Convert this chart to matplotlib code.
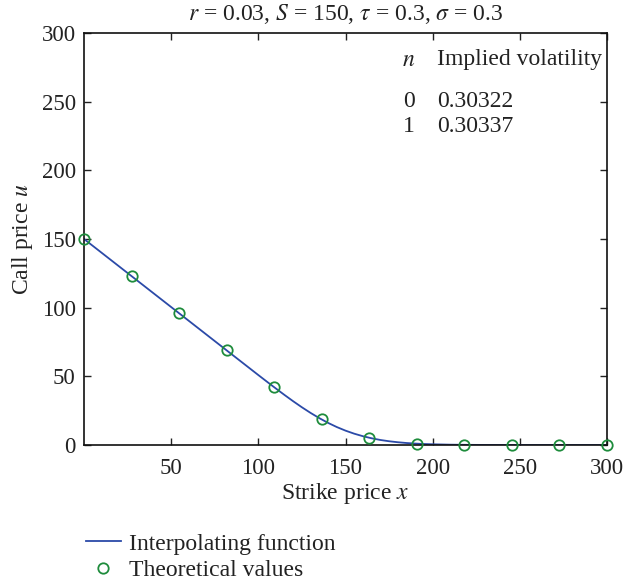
import matplotlib
matplotlib.use("Agg")
import matplotlib.pyplot as plt

plt.rcParams['font.family'] = ['Liberation Serif', 'DejaVu Serif']
plt.rcParams['mathtext.fontset'] = 'stix'

# Interpolating function (strike, call price)
line_x = [0, 10, 20, 30, 40, 50, 60, 70, 80, 90, 100, 105, 110, 115, 120, 125, 130,
          135, 140, 145, 150, 155, 160, 165, 170, 175, 180, 185, 190, 195, 200,
          210, 220, 230, 240, 250, 260, 280, 300]
line_y = [150.0, 140.09, 130.18, 120.27, 110.36, 100.45, 90.54, 80.63, 70.72, 60.83,
          50.93, 46.04, 41.20, 36.45, 31.85, 27.46, 23.34, 19.55, 16.11, 13.08, 10.46,
          8.24, 6.40, 4.88, 3.66, 2.73, 2.01, 1.45, 1.04, 0.73, 0.52,
          0.24, 0.11, 0.05, 0.02, 0.01, 0.0, 0.0, 0.0]

# Theoretical values
pts_x = [0, 27.27, 54.55, 81.82, 109.09, 136.36, 163.64, 190.91, 218.18, 245.45, 272.73, 300]
pts_y = [150.0, 122.97, 95.94, 68.92, 42.06, 18.57, 5.31, 0.97, 0.13, 0.01, 0.0, 0.0]

xticks = [50, 100, 150, 200, 250, 300]
yticks = [0, 50, 100, 150, 200, 250, 300]

table_rows = [("$n$", "Implied volatility"), ("0", "0.30322"), ("1", "0.30337")]

FS = 17
TC = '#222222'
W, H = 624, 582
fig = plt.figure(figsize=(W / 100, H / 100), dpi=100)
ax = fig.add_axes([84 / W, 1 - 445 / H, (607 - 84) / W, (445 - 33) / H])

ln, = ax.plot(line_x, line_y, color='#2b4aa8', lw=1.3, label='Interpolating function')
mk, = ax.plot(pts_x, pts_y, ls='none', marker='o', ms=7.5, mfc='none', mec='#1e8c3c',
              mew=1.3, label='Theoretical values', clip_on=False, zorder=3)

ax.set_xlim(0, 300)
ax.set_ylim(0, 300)
ax.set_xticks(xticks)
ax.set_yticks(yticks)
ax.tick_params(direction='in', top=True, right=True, labelsize=16.5, length=5,
               width=1, colors=TC, pad=6)
ax.tick_params(axis='x', pad=9)
for s in ax.spines.values():
    s.set_linewidth(1.2)
    s.set_color('#111111')

fig.text((84 + 607) / 2 / W, 1 - 14 / H,
         r"$r$ = 0.03, $S$ = 150, $\tau$ = 0.3, $\sigma$ = 0.3",
         fontsize=FS, color=TC, ha='center', va='center')
ax.set_xlabel(r"Strike price $x$", fontsize=FS, color=TC, labelpad=2)
ax.set_ylabel(r"Call price $u$", fontsize=FS, color=TC, labelpad=5)

row_y = [60, 101, 127]
for (a, b), yy in zip(table_rows, row_y):
    fig.text(409 / W, 1 - yy / H, a, ha='center', va='center', fontsize=FS, color=TC)
    fig.text(437 / W, 1 - yy / H, b, ha='left', va='center', fontsize=FS, color=TC)

fig.legend(handles=[ln, mk], loc='upper left', bbox_to_anchor=(86 / W, 1 - 533 / H),
           frameon=False, fontsize=FS, handlelength=1.48, handletextpad=0.34,
           labelspacing=0.2, borderpad=0, borderaxespad=0, labelcolor=TC)

fig.savefig('out.png', dpi=100)
